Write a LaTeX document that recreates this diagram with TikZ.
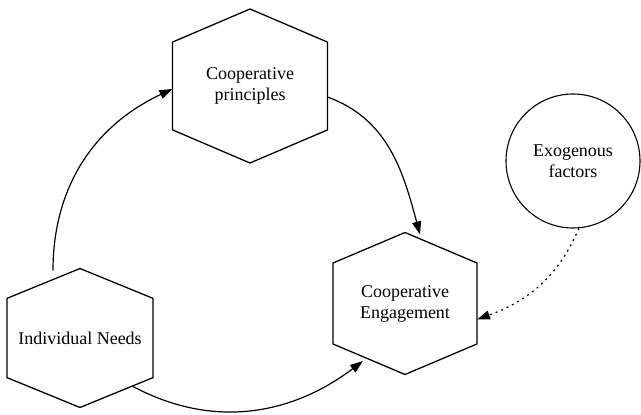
\documentclass[tikz,border=0pt]{standalone}
\usepackage{fontspec}
\setmainfont{Liberation Serif}
\usepackage{tikz}
\usetikzlibrary{arrows.meta}
\usetikzlibrary{calc}
\tikzset{
hexnode/.style={
  rectangle,
  inner sep=0pt,
  outer sep=0pt,
  align=center,
  font=\fontsize{18}{21}\selectfont
},
exnode/.style={
  circle,
  draw,
  line width=1.1pt,
  inner sep=0pt,
  minimum size=134pt,
  align=center,
  font=\fontsize{18}{21}\selectfont
},
hexline/.style={line width=1.3pt},
link/.style={line width=1.2pt,-{Triangle[length=13pt,width=9pt]}},
}

\begin{document}
\begin{tikzpicture}[x=1pt,y=1pt]
\useasboundingbox (0,0) rectangle (641,415);
% the nodes
\node[hexnode,minimum width=155pt,minimum height=154pt] (cp) at (250,329) {Cooperative\\principles};
\node[hexnode,minimum width=144pt,minimum height=142pt] (ce) at (405,111.5) {Cooperative\\Engagement};
\node[hexnode,minimum width=146pt,minimum height=139pt] (in) at (80,77) {Individual Needs};
\node[exnode] (ex) at (573,254) {Exogenous\\factors};
% the hexagons
\foreach \n in {cp,ce,in}
{
  \draw[hexline]
    (\n.north) --
    ($(\n.east)!.57!(\n.north east)$) --
    ($(\n.east)!.57!(\n.south east)$) --
    (\n.south) --
    ($(\n.west)!.57!(\n.south west)$) --
    ($(\n.west)!.57!(\n.north west)$) -- cycle;
}
% the arrows
\draw[link] ([xshift=-27,yshift=-2]in.north) to[out=90,in=205] ([yshift=-3]cp.west);
\draw[link] ([yshift=-11]cp.east) to[out=-20,in=105] ([xshift=15,yshift=-2]ce.north);
\draw[link] ([xshift=53,yshift=21]in.south) to[out=-28,in=217] ([xshift=-42,yshift=13.5]ce.south);
\draw[link,dash pattern=on 2pt off 4pt] (ex.-85) to[out=-113,in=20] ([yshift=-16]ce.east);
\end{tikzpicture}
\end{document}
